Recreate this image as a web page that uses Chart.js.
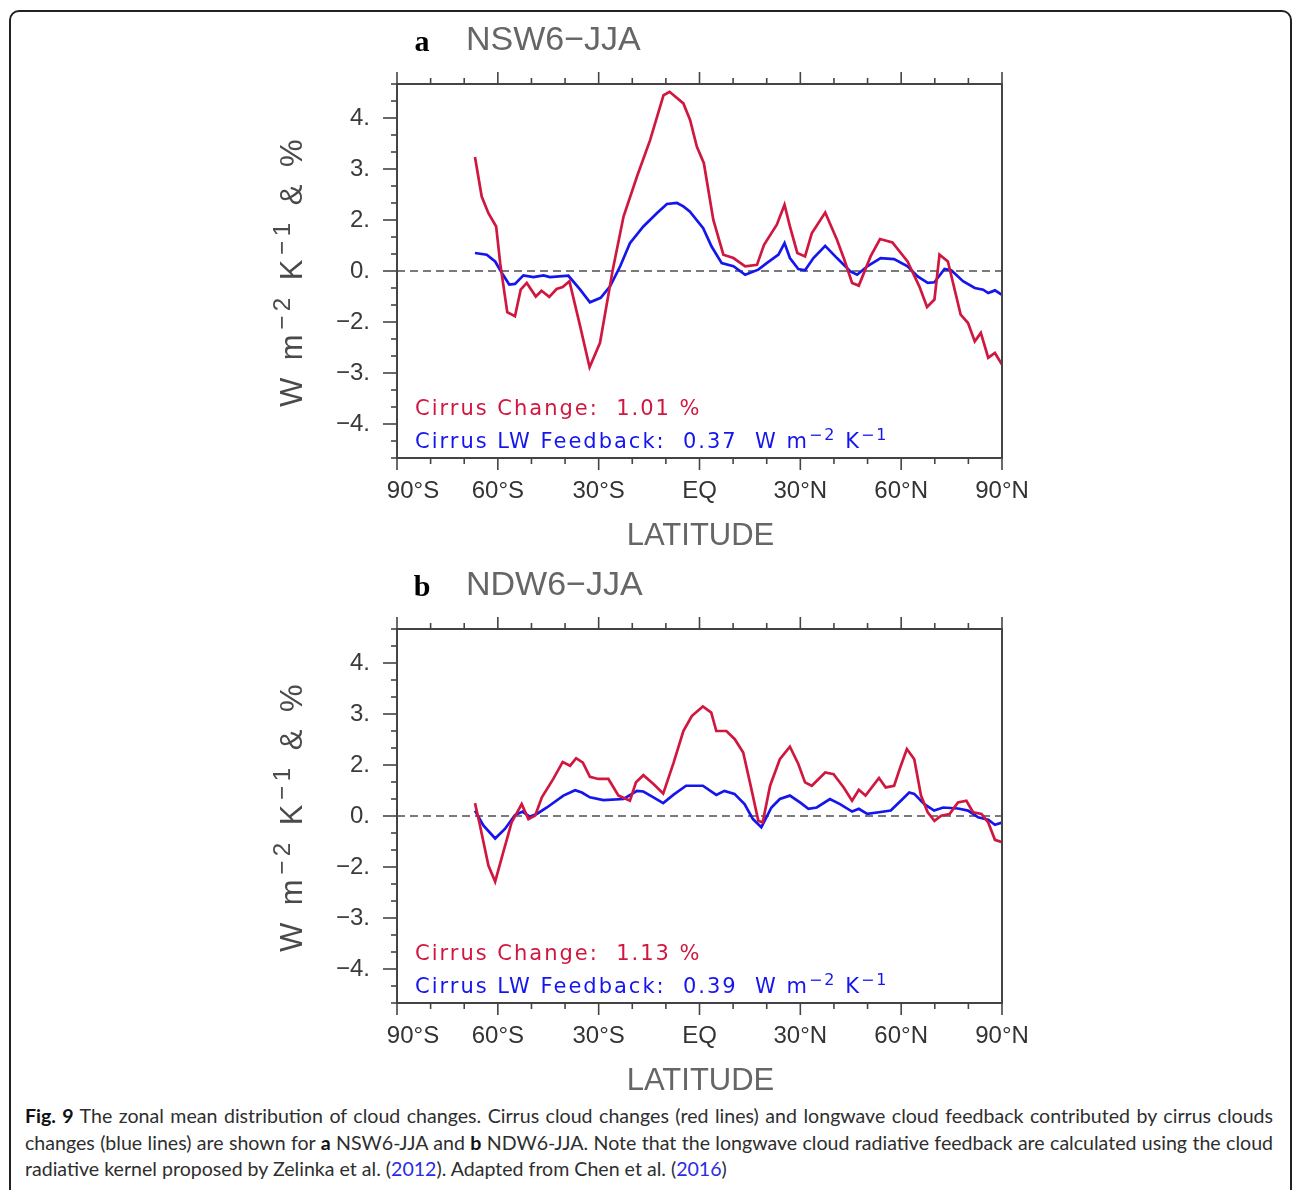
<!DOCTYPE html>
<html>
<head>
<meta charset="utf-8">
<script src="https://cdn.jsdelivr.net/npm/chart.js@4.4.0/dist/chart.umd.min.js"></script>
<style>
  html, body { margin: 0; padding: 0; background: #fff; }
  body { width: 1292px; height: 1190px; position: relative; overflow: hidden; }
  #frame { position: absolute; left: 9px; top: 10px; width: 1283px; height: 1230px;
           border: 2px solid #222; border-radius: 10px; box-sizing: border-box; }
  .panel { position: absolute; left: 0; width: 1292px; height: 545px; }
  #pa { top: 0; }
  #pb { top: 545px; }
  #caption { position: absolute; left: 25px; top: 1103px; width: 1248px;
             font-family: Lato, "Noto Sans", sans-serif; font-size: 19.5px;
             color: #2e2e2e; line-height: 26.5px; }
  .ln { white-space: nowrap; transform-origin: 0 50%; }
  .j { text-align: justify; text-align-last: justify; }
  .ref { color: #2a2ae8; }
  b { color: #111; }
</style>
</head>
<body>
<div id="frame"></div>
<canvas id="pa" class="panel" width="1292" height="545"></canvas>
<canvas id="pb" class="panel" width="1292" height="545"></canvas>
<div id="caption">
  <div class="ln j" id="l1"><b>Fig. 9</b> The zonal mean distribution of cloud changes. Cirrus cloud changes (red lines) and longwave cloud feedback contributed by cirrus clouds</div>
  <div class="ln j" id="l2">changes (blue lines) are shown for <b>a</b> NSW6-JJA and <b>b</b> NDW6-JJA. Note that the longwave cloud radiative feedback are calculated using the cloud</div>
  <div class="ln" id="l3"><span id="l3s">radiative kernel proposed by Zelinka et al. (<span class="ref">2012</span>). Adapted from Chen et al. (<span class="ref">2016</span>)</span></div>
</div>
<script>
// Latitude axis
const LAT_TICKS  = [-90, -60, -30, 0, 30, 60, 90];
const LAT_LABELS = ['90°S', '60°S', '30°S', 'EQ', '30°N', '60°N', '90°N'];

// Value axis: major ticks every 1.5, labels printed with no decimals
const Y_TICKS  = [4.5, 3, 1.5, 0, -1.5, -3, -4.5];
const Y_LABELS = ['4.', '3.', '2.', '0.', '−2.', '−3.', '−4.'];
const Y_MIN = -5.5, Y_MAX = 5.5;

// (a) NSW6-JJA : cirrus change (%)
const latA_cirrus = [-66.8,-64.8,-62.8,-60.5,-59.3,-57.2,-54.9,-53.2,-51.4,-48.7,-47.0,-44.7,-42.5,-40.7,-38.7,-35.5,-32.7,-29.6,-25.8,-22.6,-18.6,-14.7,-10.7,-8.9,-4.8,-2.8,-0.8,1.3,4.1,7.1,10.1,13.6,17.1,19.2,23.0,25.3,26.9,29.1,31.4,33.4,37.4,40.9,43.1,45.4,47.4,50.9,53.7,57.4,61.9,65.4,67.7,69.9,71.4,73.9,77.7,79.9,81.9,83.7,85.9,87.9,90];
const valA_cirrus = [3.35,2.19,1.70,1.31,0.23,-1.21,-1.33,-0.55,-0.35,-0.75,-0.58,-0.76,-0.53,-0.47,-0.30,-1.63,-2.83,-2.11,0.04,1.60,2.78,3.85,5.17,5.27,4.93,4.44,3.66,3.17,1.51,0.48,0.38,0.14,0.18,0.77,1.36,1.95,1.31,0.53,0.43,1.11,1.72,0.92,0.33,-0.35,-0.43,0.43,0.94,0.84,0.28,-0.45,-1.06,-0.84,0.48,0.28,-1.28,-1.53,-2.07,-1.82,-2.55,-2.41,-2.75];

// (a) NSW6-JJA : cirrus LW feedback (W m-2 K-1)
const latA_lw = [-66.8,-63.3,-60.8,-58.8,-56.6,-54.9,-52.4,-49.4,-46.4,-44.5,-39.0,-35.5,-32.6,-29.4,-26.6,-23.6,-20.7,-16.7,-12.7,-9.7,-6.7,-4.8,-2.9,1.1,3.6,6.6,10.1,13.6,17.5,20.0,23.5,25.3,26.9,29.4,31.4,33.9,37.4,40.9,44.9,46.9,49.9,53.9,57.9,61.9,64.9,67.9,69.9,72.9,74.9,78.4,81.9,84.4,85.9,87.9,90];
const valA_lw = [0.53,0.48,0.28,-0.06,-0.40,-0.38,-0.13,-0.18,-0.13,-0.18,-0.14,-0.55,-0.92,-0.79,-0.45,0.14,0.82,1.31,1.70,1.97,2.00,1.90,1.75,1.26,0.72,0.23,0.14,-0.11,0.04,0.23,0.48,0.82,0.38,0.06,0.02,0.38,0.74,0.38,-0.01,-0.11,0.14,0.38,0.35,0.14,-0.16,-0.35,-0.33,0.06,0.02,-0.30,-0.50,-0.55,-0.65,-0.57,-0.70];

// (b) NDW6-JJA : cirrus change (%)
const latB_cirrus = [-66.8,-65.5,-62.8,-60.8,-58.4,-55.9,-52.9,-50.9,-48.9,-46.9,-43.5,-40.7,-38.5,-36.7,-34.7,-32.6,-30.1,-27.1,-24.1,-20.7,-18.9,-16.7,-13.7,-10.8,-7.7,-4.8,-2.3,1.0,3.5,5.0,8.0,10.5,13.0,15.0,17.5,18.8,21.0,23.9,26.9,29.4,31.4,33.4,37.4,39.9,42.9,45.4,47.4,49.4,53.4,55.4,57.9,59.9,61.7,63.9,65.9,67.9,69.9,71.9,74.4,76.9,79.4,81.4,83.9,85.9,87.9,90];
const valB_cirrus = [0.38,-0.19,-1.46,-1.93,-1.07,-0.19,0.35,-0.09,0.01,0.55,1.09,1.59,1.48,1.70,1.57,1.15,1.09,1.09,0.60,0.45,0.99,1.20,0.94,0.66,1.57,2.50,2.94,3.22,3.04,2.50,2.50,2.26,1.87,0.99,-0.14,-0.19,0.89,1.67,2.04,1.53,0.99,0.89,1.28,1.23,0.84,0.45,0.77,0.60,1.12,0.84,0.89,1.48,1.97,1.67,0.60,0.11,-0.14,0.01,0.06,0.40,0.45,0.11,0.06,-0.19,-0.70,-0.77];

// (b) NDW6-JJA : cirrus LW feedback (W m-2 K-1)
const latB_lw = [-66.8,-64.3,-60.8,-57.9,-54.9,-52.6,-50.6,-48.4,-45.4,-40.5,-37.0,-35.0,-32.6,-28.6,-22.6,-18.6,-16.7,-13.7,-10.8,-7.7,-4.0,1.0,5.0,7.4,10.4,13.4,15.9,18.4,21.4,23.9,26.9,29.9,32.4,34.9,38.8,41.8,45.4,47.4,49.9,53.4,56.9,59.9,62.4,63.9,66.9,69.8,72.5,76.9,79.9,82.9,85.9,87.9,90];
const valB_lw = [0.16,-0.28,-0.66,-0.38,0.03,0.13,-0.02,0.06,0.25,0.60,0.76,0.69,0.55,0.47,0.50,0.74,0.72,0.55,0.38,0.63,0.89,0.89,0.62,0.74,0.65,0.35,-0.09,-0.33,0.25,0.50,0.60,0.40,0.21,0.25,0.50,0.35,0.13,0.21,0.06,0.11,0.16,0.45,0.69,0.65,0.35,0.16,0.25,0.22,0.16,-0.04,-0.11,-0.26,-0.19];

// Global means printed inside each panel
const MEAN_CHANGE   = { a: '1.01', b: '1.13' };
const MEAN_FEEDBACK = { a: '0.37', b: '0.39' };

const RED  = '#d0173f';
const BLUE = '#1515ee';
const AXIS = '#444';
const SANS = '"Liberation Sans", Arial, sans-serif';
const WIDE = '"DejaVu Sans", Verdana, sans-serif';

// Draw a sequence of text runs (some superscripted) starting at x, or centred on x.
function drawRuns(ctx, runs, x, y, size, family, color, spacing, align, supScale) {
  const k = supScale || 0.62;
  const parts = runs.map(r => ({
    t: r.t,
    s: r.sup ? size * k : size,
    dy: r.sup ? -size * 0.40 : 0
  }));
  let total = 0;
  ctx.letterSpacing = spacing + 'px';
  parts.forEach(p => {
    ctx.font = `${p.s}px ${family}`;
    p.w = ctx.measureText(p.t).width;
    total += p.w;
  });
  let cx = align === 'center' ? x - total / 2 : x;
  ctx.fillStyle = color;
  ctx.textAlign = 'left';
  ctx.textBaseline = 'alphabetic';
  parts.forEach(p => {
    ctx.font = `${p.s}px ${family}`;
    ctx.fillText(p.t, cx, y + p.dy);
    cx += p.w;
  });
  ctx.letterSpacing = '0px';
}

function line(ctx, x1, y1, x2, y2) {
  ctx.beginPath(); ctx.moveTo(x1, y1); ctx.lineTo(x2, y2); ctx.stroke();
}

// Frame, outward tick marks, zero line, titles and in-panel annotations
const nclDecor = {
  id: 'nclDecor',
  beforeDatasetsDraw(chart) {
    const { ctx, chartArea: a } = chart;
    const y0 = chart.scales.y.getPixelForValue(0);
    ctx.save();
    ctx.strokeStyle = '#7a7a7a';
    ctx.lineWidth = 2;
    ctx.setLineDash([8, 5]);
    line(ctx, a.left, y0, a.right, y0);
    ctx.restore();
  },
  afterDraw(chart, args, o) {
    const { ctx, chartArea: a } = chart;
    const xs = chart.scales.x, ys = chart.scales.y;
    ctx.save();

    // plot frame
    ctx.strokeStyle = AXIS;
    ctx.lineWidth = 2;
    ctx.strokeRect(a.left, a.top, a.right - a.left, a.bottom - a.top);

    // latitude ticks (major every 30, minor every 10), top and bottom, outward
    ctx.lineWidth = 1.6;
    for (let v = -90; v <= 90; v += 10) {
      const px = xs.getPixelForValue(v);
      const len = LAT_TICKS.includes(v) ? 12 : 6;
      line(ctx, px, a.bottom, px, a.bottom + len);
      line(ctx, px, a.top, px, a.top - len);
    }
    // value ticks (major every 1.5, minor every 0.5), left side, outward
    for (let k = -11; k <= 11; k++) {
      const v = k * 0.5;
      const py = ys.getPixelForValue(v);
      const len = Y_TICKS.includes(v) ? 14 : 6;
      line(ctx, a.left - len, py, a.left, py);
    }

    // latitude labels
    ctx.fillStyle = '#333';
    ctx.font = `24px ${SANS}`;
    ctx.textAlign = 'center';
    ctx.textBaseline = 'middle';
    LAT_TICKS.forEach((v, i) => {
      const px = xs.getPixelForValue(v) + (i === 0 ? 16 : 0);
      ctx.fillText(LAT_LABELS[i], px, a.bottom + 33);
    });

    // axis titles
    ctx.fillStyle = '#666';
    ctx.font = `31px ${SANS}`;
    ctx.fillText('LATITUDE', (a.left + a.right) / 2 + 1, a.bottom + 78);

    ctx.save();
    ctx.translate(291, (a.top + a.bottom) / 2);
    ctx.rotate(-Math.PI / 2);
    drawRuns(ctx, [
      { t: 'W m' }, { t: '−2', sup: true }, { t: ' K' }, { t: '−1', sup: true }, { t: ' & %' }
    ], 0, 11, 31, SANS, '#4a4a4a', 4.5, 'center', 0.78);
    ctx.restore();

    // panel letter and experiment name
    ctx.fillStyle = '#000';
    ctx.font = `bold 30px "Liberation Serif", "DejaVu Serif", serif`;
    ctx.textAlign = 'center';
    ctx.textBaseline = 'middle';
    ctx.fillText(o.letter, 422, 43);
    ctx.fillStyle = '#666';
    ctx.font = `34px ${SANS}`;
    ctx.textAlign = 'left';
    ctx.fillText(o.name, 466, 41);

    // global-mean annotations
    drawRuns(ctx, [{ t: 'Cirrus Change:  ' + MEAN_CHANGE[o.letter] + ' %' }],
      415, a.top + 331, 21, WIDE, RED, 2, 'left');
    drawRuns(ctx, [
      { t: 'Cirrus LW Feedback:  ' + MEAN_FEEDBACK[o.letter] + '  W m' },
      { t: '−2', sup: true }, { t: ' K' }, { t: '−1', sup: true }
    ], 415, a.top + 364, 21, WIDE, BLUE, 2, 'left', 0.76);

    ctx.restore();
  }
};

function makePanel(id, letter, name, latC, valC, latF, valF) {
  const pts = (lat, val) => lat.map((x, i) => ({ x, y: val[i] }));
  return new Chart(document.getElementById(id), {
    type: 'line',
    data: {
      datasets: [
        { label: 'Cirrus Change', data: pts(latC, valC), borderColor: RED,
          borderWidth: 2.7, pointRadius: 0, tension: 0, fill: false },
        { label: 'Cirrus LW Feedback', data: pts(latF, valF), borderColor: BLUE,
          borderWidth: 2.7, pointRadius: 0, tension: 0, fill: false }
      ]
    },
    options: {
      responsive: false,
      devicePixelRatio: 1,
      animation: false,
      layout: { padding: { left: 0, top: 84, right: 290, bottom: 0 } },
      plugins: {
        legend: { display: false },
        tooltip: { enabled: false },
        nclDecor: { letter, name }
      },
      scales: {
        x: {
          type: 'linear', min: -90, max: 90,
          afterFit(s) { s.height = 87; },
          ticks: { display: false },
          grid: { display: false, drawTicks: false },
          border: { display: false }
        },
        y: {
          type: 'linear', min: Y_MIN, max: Y_MAX,
          afterFit(s) { s.width = 397; },
          afterBuildTicks(s) { s.ticks = Y_TICKS.map(v => ({ value: v })); },
          ticks: {
            callback: v => Y_LABELS[Y_TICKS.indexOf(v)],
            font: { family: SANS, size: 24 },
            color: '#3a3a3a',
            padding: 27
          },
          grid: { display: false, drawTicks: false },
          border: { display: false }
        }
      }
    },
    plugins: [nclDecor]
  });
}

makePanel('pa', 'a', 'NSW6−JJA', latA_cirrus, valA_cirrus, latA_lw, valA_lw);
makePanel('pb', 'b', 'NDW6−JJA', latB_cirrus, valB_cirrus, latB_lw, valB_lw);

// Caption: size the text so the last line ends where it should, justify the others
function fitCaption() {
  const cap = document.getElementById('caption');
  const l3 = document.getElementById('l3s');
  const target3 = 727 - 25;
  let fs = 19.5;
  cap.style.fontSize = fs + 'px';
  fs = fs * target3 / l3.getBoundingClientRect().width;
  cap.style.fontSize = fs.toFixed(2) + 'px';
  ['l1', 'l2'].forEach(id => {
    const el = document.getElementById(id);
    el.style.transform = 'none';
    if (el.scrollWidth > el.clientWidth + 1) {
      el.style.transform = `scaleX(${(el.clientWidth / el.scrollWidth).toFixed(4)})`;
    }
  });
}
if (document.fonts && document.fonts.ready) document.fonts.ready.then(fitCaption); else fitCaption();
fitCaption();
</script>
</body>
</html>
